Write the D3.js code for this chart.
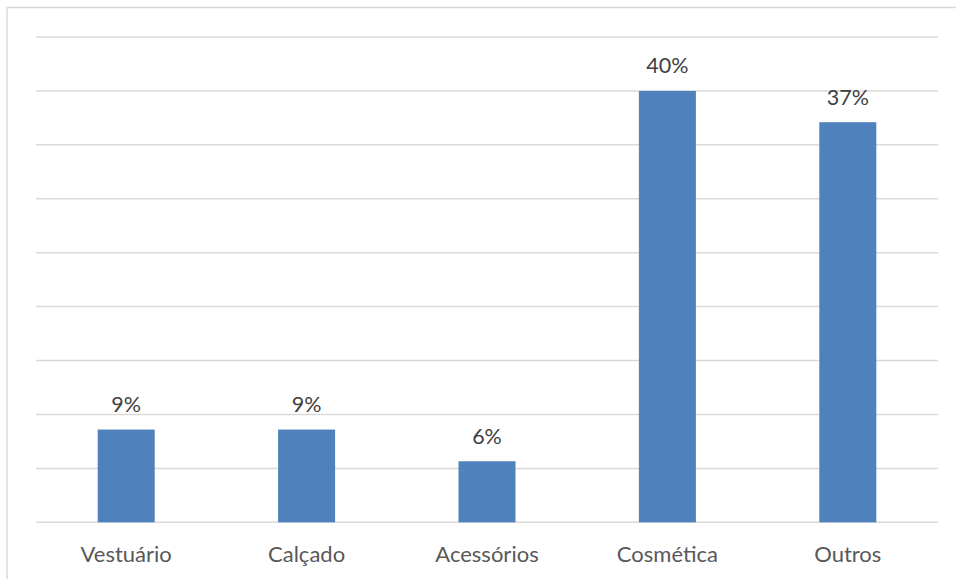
<!DOCTYPE html>
<html><head><meta charset="utf-8">
<script src="https://cdn.jsdelivr.net/npm/d3@7/dist/d3.min.js"></script>
<style>html,body{margin:0;padding:0;background:#fff;}svg{display:block;}</style>
</head><body>
<svg id="c" width="956" height="579"></svg>
<script>
const categories = ["Vestuário", "Calçado", "Acessórios", "Cosmética", "Outros"];
const values = [8.6, 8.6, 5.66, 40.0, 37.1];
const yTicks = [0, 5, 10, 15, 20, 25, 30, 35, 40, 45];

const svg = d3.select("#c");
const font = "Lato, 'Open Sans', sans-serif";
const textColor = "#595959";

// outer chart border
svg.append("rect").attr("x", 7).attr("y", 7.5).attr("width", 960).attr("height", 600)
  .attr("fill", "#fff").attr("stroke", "#d9d9d9").attr("stroke-width", 1.5);

const plotLeft = 36, plotRight = 938, plotTop = 37, plotBottom = 522.3;
const x = d3.scaleBand().domain(categories).range([plotLeft, plotRight]).paddingInner(0.684).paddingOuter(0.342);
const y = d3.scaleLinear().domain([0, 45]).range([plotBottom, plotTop]);

svg.append("g").selectAll("line").data(yTicks).join("line")
  .attr("x1", plotLeft).attr("x2", plotRight)
  .attr("y1", d => y(d)).attr("y2", d => y(d))
  .attr("stroke", "#d9d9d9").attr("stroke-width", 1.5);

svg.append("g").selectAll("rect").data(values).join("rect")
  .attr("x", (d, i) => x(categories[i]))
  .attr("width", x.bandwidth())
  .attr("y", d => y(d))
  .attr("height", d => y(0) - y(d))
  .attr("fill", "#4f81bd");

svg.append("g").selectAll("text").data(values).join("text")
  .attr("x", (d, i) => x(categories[i]) + x.bandwidth() / 2)
  .attr("y", d => y(d) - 17.5)
  .attr("text-anchor", "middle")
  .attr("font-family", font).attr("font-size", 21.5).attr("fill", "#404040")
  .text(d => Math.round(d) + "%");

svg.append("g").selectAll("text").data(categories).join("text")
  .attr("x", d => x(d) + x.bandwidth() / 2)
  .attr("y", plotBottom + 39.5)
  .attr("text-anchor", "middle")
  .attr("font-family", font).attr("font-size", 22).attr("fill", textColor)
  .text(d => d);
</script>
</body></html>
